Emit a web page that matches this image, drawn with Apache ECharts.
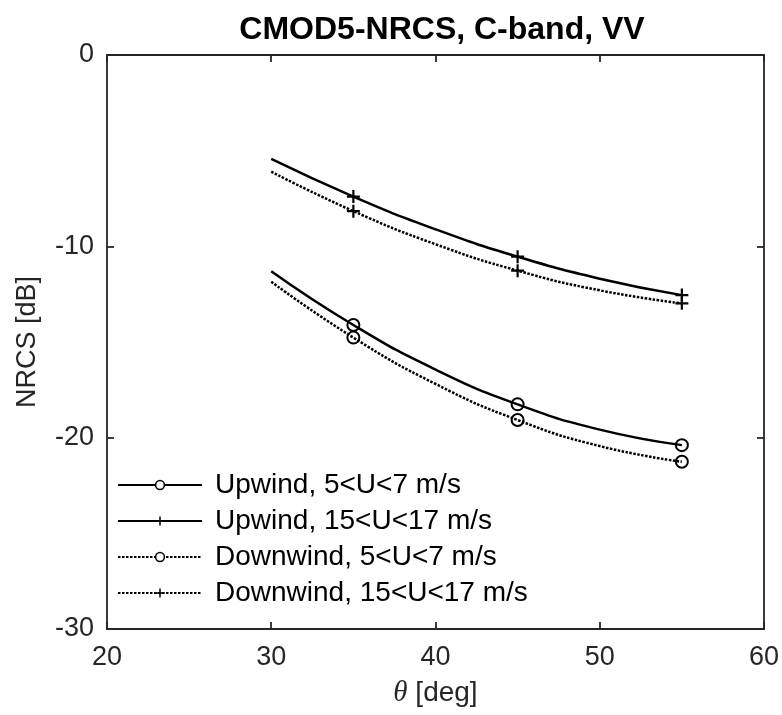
<!DOCTYPE html>
<html><head><meta charset="utf-8">
<script src="https://cdn.jsdelivr.net/npm/echarts@6/dist/echarts.min.js"></script>
<style>html,body{margin:0;padding:0;background:#fff}#c{width:782px;height:715px}</style>
</head><body><div id="c"></div>
<script>
const angles = [30, 35, 40, 45, 50, 55];
const markerAngles = [35, 45, 55];
const upwindLow = [-11.3, -14.11, -16.44, -18.26, -19.58, -20.39];
const upwindHigh = [-5.43, -7.4, -9.11, -10.54, -11.69, -12.55];
const downwindLow = [-11.85, -14.77, -17.19, -19.08, -20.44, -21.26];
const downwindHigh = [-6.1, -8.16, -9.89, -11.27, -12.3, -12.98];
const seriesNames = ['Upwind, 5<U<7 m/s', 'Upwind, 15<U<17 m/s', 'Downwind, 5<U<7 m/s', 'Downwind, 15<U<17 m/s'];
const xTicks = [20, 30, 40, 50, 60];
const yTicks = [-30, -20, -10, 0];

const FONT = 'Liberation Sans, Arial, Helvetica, sans-serif';
const TXT = '#262626';
const PLUS = 'path://M5,0L5,10M0,5L10,5';

function mk(vals, name, isCircle, dotted) {
  return {
    name: name, type: 'line', smooth: true,
    data: angles.map((a, i) => {
      const item = { value: [a, vals[i]] };
      if (markerAngles.indexOf(a) < 0) item.symbol = 'none';
      return item;
    }),
    symbol: isCircle ? 'circle' : PLUS, symbolSize: isCircle ? 12 : 13,
    showAllSymbol: true,
    lineStyle: { color: '#000', width: 2.5, type: dotted ? [2.5, 1.5] : 'solid' },
    itemStyle: { color: 'rgba(0,0,0,0)', borderColor: '#000', borderWidth: isCircle ? 2 : 2.2 },
    emphasis: { disabled: true }, z: 3
  };
}

const chart = echarts.init(document.getElementById('c'));
const axisCommon = {
  axisLine: { show: true, onZero: false, lineStyle: { color: '#262626', width: 1.8 } },
  axisTick: { show: true, inside: true, length: 7, lineStyle: { color: '#262626', width: 1.8 } },
  splitLine: { show: false }
};
chart.setOption({
  animation: false,
  backgroundColor: '#fff',
  title: {
    text: 'CMOD5-NRCS, C-band, VV', left: 437, top: 9, textAlign: 'center',
    textStyle: { fontFamily: FONT, fontSize: 32, fontWeight: 'bold', color: '#000' }
  },
  grid: { left: 107, right: 15, top: 55, bottom: 86 },
  legend: {
    orient: 'vertical', left: 112, top: 466, itemGap: 8,
    itemWidth: 84, itemHeight: 11,
    textStyle: { fontFamily: FONT, fontSize: 28, color: '#000', padding: [0, 0, 0, 8] },
    data: seriesNames.map(n => ({ name: n, itemStyle: { color: '#fff', borderColor: '#000', borderWidth: 1.5 } }))
  },
  xAxis: [
    Object.assign({
      type: 'value', min: 20, max: 60, interval: 10, position: 'bottom',
      axisLabel: { fontFamily: FONT, fontSize: 27, color: TXT, margin: 15 },
      name: '{i|θ} [deg]', nameLocation: 'middle', nameGap: 50,
      nameTextStyle: { fontFamily: FONT, fontSize: 28, color: TXT,
        rich: { i: { fontFamily: 'Liberation Serif', fontStyle: 'italic', fontSize: 29, color: TXT } } }
    }, axisCommon),
    Object.assign({
      type: 'value', min: 20, max: 60, interval: 10, position: 'top',
      axisLabel: { show: false }
    }, axisCommon)
  ],
  yAxis: [
    Object.assign({
      type: 'value', min: -30, max: 0, interval: 10, position: 'left',
      axisLabel: { fontFamily: FONT, fontSize: 27, color: TXT, margin: 13 },
      name: 'NRCS [dB]', nameLocation: 'middle', nameGap: 66,
      nameTextStyle: { fontFamily: FONT, fontSize: 27, color: TXT }
    }, axisCommon),
    Object.assign({
      type: 'value', min: -30, max: 0, interval: 10, position: 'right',
      axisLabel: { show: false }
    }, axisCommon)
  ],
  series: [
    mk(upwindLow, seriesNames[0], true, false),
    mk(upwindHigh, seriesNames[1], false, false),
    mk(downwindLow, seriesNames[2], true, true),
    mk(downwindHigh, seriesNames[3], false, true)
  ]
});
</script></body></html>
